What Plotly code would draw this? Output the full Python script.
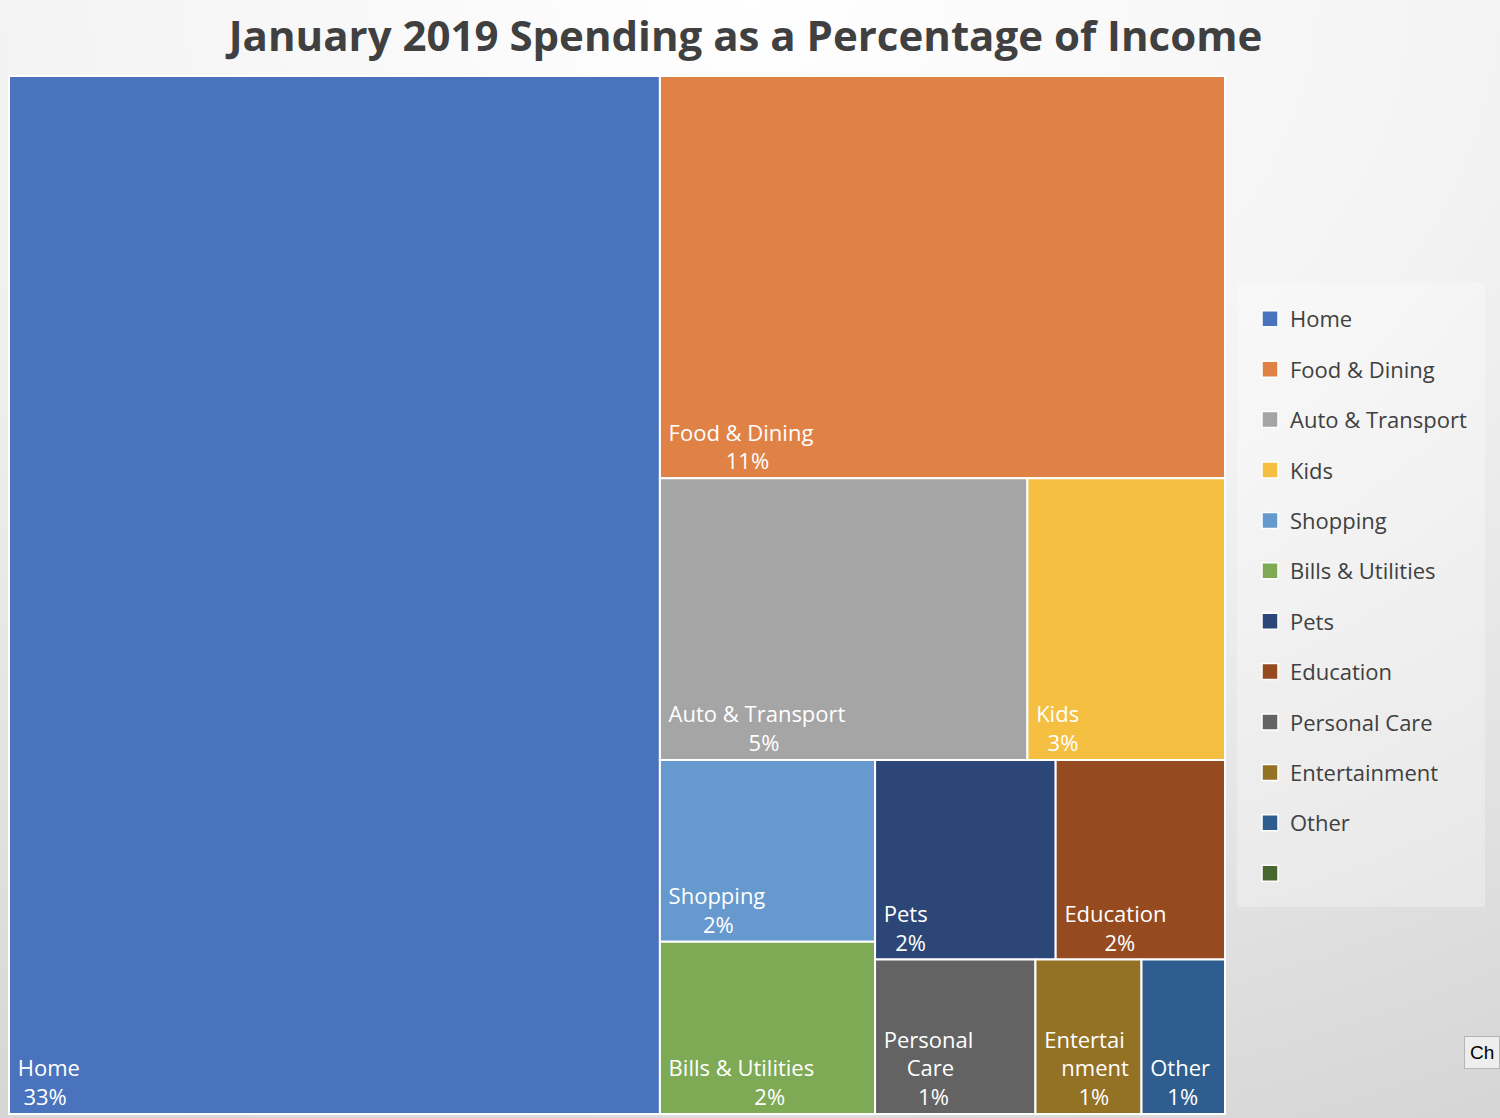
import base64
import plotly.graph_objects as go

categories = ["Home", "Food & Dining", "Auto & Transport", "Kids", "Shopping",
              "Bills & Utilities", "Pets", "Education", "Personal Care",
              "Entertainment", "Other"]
pct_income = [33.0, 11.1, 5.06, 2.72, 1.91, 1.81, 1.76, 1.65, 1.21, 0.80, 0.63]
tile_names = ["Home", "Food & Dining", "Auto & Transport", "Kids", "Shopping",
              "Bills & Utilities", "Pets", "Education", "Personal<br>Care",
              "Entertai<br>nment", "Other"]
colors = ["#4a73bd", "#e08246", "#a5a5a5", "#f5bf42", "#6699cd", "#7eaa55",
          "#2c4777", "#954a20", "#636363", "#937125", "#2f5d8f"]
legend_names = categories + [" "]
legend_colors = colors + ["#48672f"]

W, H = 1500, 1118
NB = "\u00a0"

# build tile text, roughly centering the lines on each other
tile_text = []
for name, v in zip(tile_names, pct_income):
    lines = name.split("<br>")
    pct = f"{v:.0f}%"
    longest = max(len(l) for l in lines)
    out = [NB + NB * round((longest - len(l)) * 0.9) + l for l in lines]
    out.append(NB + NB * max(0, longest - len(pct)) + pct)
    tile_text.append("<br>".join(out))

fig = go.Figure()

fig.add_trace(go.Treemap(
    labels=categories,
    parents=[""] * len(categories),
    values=pct_income,
    text=tile_text,
    texttemplate="%{text}",
    textposition="bottom left",
    textfont=dict(family="Open Sans", size=22, color="white"),
    marker=dict(colors=colors, line=dict(color="white", width=2),
                pad=dict(t=0, l=0, r=0, b=0)),
    tiling=dict(packing="squarify", squarifyratio=1, pad=0),
    pathbar=dict(visible=False),
    root=dict(color="rgba(0,0,0,0)"),
    sort=True,
    hoverinfo="skip",
    domain=dict(x=[9 / W, 1225 / W], y=[1 - 1114 / H, 1 - 76 / H]),
))

# legend entries
for i, (n, c) in enumerate(zip(legend_names, legend_colors)):
    fig.add_trace(go.Scatter(
        x=[None], y=[None], mode="markers", name=n, legendgroup=f"g{i}",
        marker=dict(symbol="square", size=18, color=c, line=dict(color="white", width=1.5)),
    ))

svg = (f'<svg xmlns="http://www.w3.org/2000/svg" width="{W}" height="{H}">'
       '<defs><radialGradient id="g" cx="0.5" cy="0" r="1.1" gradientUnits="objectBoundingBox">'
       '<stop offset="0" stop-color="#ffffff"/><stop offset="0.45" stop-color="#f3f3f3"/>'
       '<stop offset="1" stop-color="#d6d6d6"/></radialGradient></defs>'
       f'<rect width="{W}" height="{H}" fill="url(#g)"/></svg>')
bg_src = "data:image/svg+xml;base64," + base64.b64encode(svg.encode()).decode()

fig.update_layout(
    width=W, height=H,
    margin=dict(l=0, r=0, t=0, b=0),
    paper_bgcolor="#ececec",
    plot_bgcolor="rgba(0,0,0,0)",
    title=dict(text="<b>January 2019 Spending as a Percentage of Income</b>",
               x=0.497, xanchor="center", y=1 - 36 / H, yanchor="middle",
               font=dict(family="Open Sans", size=42, color="#404040")),
    xaxis=dict(visible=False),
    yaxis=dict(visible=False),
    showlegend=True,
    legend=dict(x=1250 / W, y=1 - 298 / H, xanchor="left", yanchor="top",
                bgcolor="rgba(0,0,0,0)",
                font=dict(family="Open Sans", size=22, color="#404040"),
                tracegroupgap=18.8, itemclick=False, itemdoubleclick=False),
    shapes=[dict(type="rect", xref="paper", yref="paper", layer="below",
                 x0=1237 / W, x1=1485 / W, y0=1 - 907 / H, y1=1 - 283 / H,
                 fillcolor="rgba(255,255,255,0.3)", line=dict(width=0))],
    images=[dict(source=bg_src, xref="paper", yref="paper", x=0, y=1,
                 sizex=1, sizey=1, sizing="stretch", layer="below")],
    annotations=[dict(text="Ch", x=1.0, y=1 - 1052 / H, xref="paper", yref="paper",
                      xanchor="right", yanchor="middle", showarrow=False,
                      font=dict(family="Liberation Sans", size=19, color="black"),
                      bgcolor="#eeeeee", bordercolor="#b5b5b5", borderwidth=1, borderpad=5)],
)

fig.write_html("out.html", config={"displayModeBar": False},
               post_script="document.body.style.margin='0';document.body.style.overflow='hidden';")
